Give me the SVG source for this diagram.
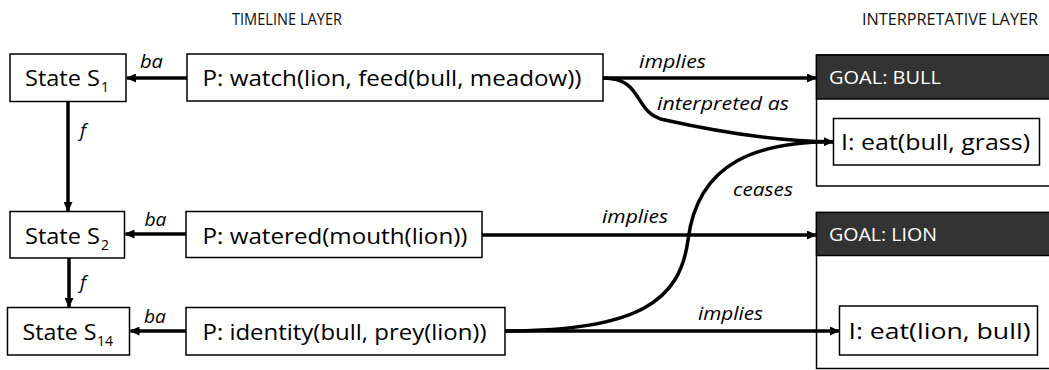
<svg xmlns="http://www.w3.org/2000/svg" width="1049" height="370" viewBox="0 0 1049 370">
  <style>
    .box { fill: #ffffff; stroke: #000000; stroke-width: 1.5; }
    .goal { fill: #ffffff; stroke: #000000; stroke-width: 1.5; }
    .head { fill: #333333; stroke: #000000; stroke-width: 1.5; }
    .t { font-family: "Open Sans", "Liberation Sans", sans-serif; font-size: 21px; fill: #000000; }
    .sub { font-family: "Open Sans", "Liberation Sans", sans-serif; font-size: 14px; fill: #000000; }
    .ht { font-family: "Open Sans", "Liberation Sans", sans-serif; font-size: 19px; fill: #ffffff; }
    .layer { font-family: "Open Sans", "Liberation Sans", sans-serif; font-size: 16px; fill: #111111; }
    .lbl { font-family: "Open Sans", "Liberation Sans", sans-serif; font-size: 19px; font-style: italic; fill: #000000; }
    .edge { fill: none; stroke: #000000; stroke-width: 3.5; }
  </style>
  <defs>
    <marker id="arrow" viewBox="0 0 10 9" refX="9" refY="4.5" markerWidth="10" markerHeight="9" orient="auto" markerUnits="userSpaceOnUse">
      <path d="M0,0 L10,4.5 L0,9 z" fill="#000000"/>
    </marker>
  </defs>

  <!-- layer titles -->
  <text class="layer" x="232" y="25" textLength="110" lengthAdjust="spacingAndGlyphs">TIMELINE LAYER</text>
  <text class="layer" x="862" y="25" textLength="176" lengthAdjust="spacingAndGlyphs">INTERPRETATIVE LAYER</text>

  <!-- timeline states -->
  <g id="state-s1">
    <rect class="box" x="10" y="54" width="116" height="47.5"/>
    <text class="t" x="25" y="86" textLength="75" lengthAdjust="spacingAndGlyphs">State S</text>
    <text class="sub" x="101" y="92">1</text>
  </g>
  <g id="state-s2">
    <rect class="box" x="10" y="211.5" width="114.5" height="46.5"/>
    <text class="t" x="25" y="243.5" textLength="75" lengthAdjust="spacingAndGlyphs">State S</text>
    <text class="sub" x="101" y="249.5">2</text>
  </g>
  <g id="state-s14">
    <rect class="box" x="7.5" y="307.5" width="122" height="47.5"/>
    <text class="t" x="22.5" y="339.5" textLength="74" lengthAdjust="spacingAndGlyphs">State S</text>
    <text class="sub" x="97" y="345.5">14</text>
  </g>

  <!-- propositions -->
  <g id="prop-watch">
    <rect class="box" x="187" y="54" width="416" height="47"/>
    <text class="t" x="202.5" y="86" textLength="379" lengthAdjust="spacingAndGlyphs">P: watch(lion, feed(bull, meadow))</text>
  </g>
  <g id="prop-watered">
    <rect class="box" x="186" y="211.5" width="296" height="46"/>
    <text class="t" x="202.5" y="243.5" textLength="265" lengthAdjust="spacingAndGlyphs">P: watered(mouth(lion))</text>
  </g>
  <g id="prop-identity">
    <rect class="box" x="186" y="307.5" width="319" height="47.5"/>
    <text class="t" x="202.5" y="339.5" textLength="284" lengthAdjust="spacingAndGlyphs">P: identity(bull, prey(lion))</text>
  </g>

  <!-- goals -->
  <g id="goal-bull">
    <rect class="goal" x="816.5" y="55" width="250" height="131"/>
    <rect class="head" x="816.5" y="55" width="250" height="44"/>
    <text class="ht" x="829" y="84" textLength="112" lengthAdjust="spacingAndGlyphs">GOAL: BULL</text>
  </g>
  <g id="interp-eat-bull-grass">
    <rect class="box" x="833.5" y="118.5" width="206" height="46.5"/>
    <text class="t" x="841" y="150" textLength="189" lengthAdjust="spacingAndGlyphs">I: eat(bull, grass)</text>
  </g>
  <g id="goal-lion">
    <rect class="goal" x="816.5" y="212.5" width="250" height="156"/>
    <rect class="head" x="816.5" y="212.5" width="250" height="43"/>
    <text class="ht" x="829" y="241" textLength="108" lengthAdjust="spacingAndGlyphs">GOAL: LION</text>
  </g>
  <g id="interp-eat-lion-bull">
    <rect class="box" x="839.5" y="306" width="198" height="49"/>
    <text class="t" x="848.5" y="339" textLength="182" lengthAdjust="spacingAndGlyphs">I: eat(lion, bull)</text>
  </g>

  <!-- connectors -->
  <g id="connectors">
    <path class="edge" d="M187,78 L127,78" marker-end="url(#arrow)"/>
    <path class="edge" d="M186,234 L125.5,234" marker-end="url(#arrow)"/>
    <path class="edge" d="M186,331 L130.5,331" marker-end="url(#arrow)"/>
    <path class="edge" d="M68,102 L68,211" marker-end="url(#arrow)"/>
    <path class="edge" d="M69,258 L69,307" marker-end="url(#arrow)"/>
    <path class="edge" d="M603,78 L816,78" marker-end="url(#arrow)"/>
    <path class="edge" d="M603,78 C645,78 632,113 665,120 C710,130 770,141.5 833,141.7" marker-end="url(#arrow)"/>
    <path class="edge" d="M505,331 C640,331 680,300 688,240 C698,160 760,142 833,141.7"/>
    <path class="edge" d="M482,235 L816,235" marker-end="url(#arrow)"/>
    <path class="edge" d="M505,331 L839,331" marker-end="url(#arrow)"/>

    <text class="lbl" x="140" y="68" textLength="23" lengthAdjust="spacingAndGlyphs">ba</text>
    <text class="lbl" x="144.5" y="226" textLength="22" lengthAdjust="spacingAndGlyphs">ba</text>
    <text class="lbl" x="144" y="323" textLength="22" lengthAdjust="spacingAndGlyphs">ba</text>
    <text class="lbl" x="80" y="137">f</text>
    <text class="lbl" x="80" y="289">f</text>
    <text class="lbl" x="639" y="68" textLength="67" lengthAdjust="spacingAndGlyphs">implies</text>
    <text class="lbl" x="657" y="110" textLength="132" lengthAdjust="spacingAndGlyphs">interpreted as</text>
    <text class="lbl" x="733" y="196" textLength="60" lengthAdjust="spacingAndGlyphs">ceases</text>
    <text class="lbl" x="602" y="223" textLength="66" lengthAdjust="spacingAndGlyphs">implies</text>
    <text class="lbl" x="698" y="320" textLength="65" lengthAdjust="spacingAndGlyphs">implies</text>
  </g>
</svg>
